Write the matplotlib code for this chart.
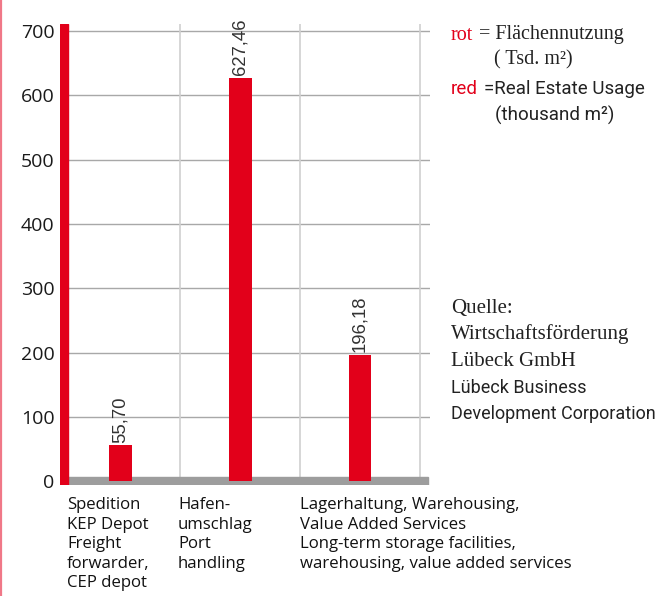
import matplotlib
matplotlib.use("Agg")
import matplotlib.pyplot as plt

# data
categories = ["Spedition\nKEP Depot\nFreight\nforwarder,\nCEP depot",
              "Hafen-\numschlag\nPort\nhandling",
              "Lagerhaltung, Warehousing,\nValue Added Services\nLong-term storage facilities,\nwarehousing, value added services"]
values = [55.70, 627.46, 196.18]
value_labels = ["55,70", "627,46", "196,18"]
yticks = [0, 100, 200, 300, 400, 500, 600, 700]

RED = "#e2001a"
W, H = 662, 596
fig = plt.figure(figsize=(W / 100, H / 100), dpi=100)

# axes in pixel coords: x 60..430, y 24..485
ax = fig.add_axes([60 / W, (H - 485) / H, 370 / W, (485 - 24) / H])
ax.set_xlim(0, 370 / 120)
ax.set_ylim(-6, 711)

for y in yticks[1:]:
    ax.axhline(y, color="#a8a8a8", lw=1, zorder=1)
for x in [1, 2, 3]:
    ax.axvline(x, color="#cfcfcf", lw=1.2, zorder=1)

xs = [0.5 + i for i in range(len(values))]
ax.bar(xs, values, width=23 / 120, color=RED, zorder=3)
for x, v, lab in zip(xs, values, value_labels):
    ax.text(x, v + 4, lab, rotation=90, ha="center", va="bottom",
            fontsize=13.3, family="Liberation Sans", color="#333333", zorder=4)

# grey base band and red y axis bar
ax.axhspan(-6, 6, xmin=8 / 370, xmax=368 / 370, color="#9d9d9d", zorder=2)
ax.axvspan(0, 8 / 120, ymin=0.0, ymax=1, color=RED, zorder=5)

for s in ax.spines.values():
    s.set_visible(False)
ax.set_xticks([])
ax.set_yticks(yticks)
ax.tick_params(axis="y", length=0, pad=4, labelsize=14, labelcolor="#1a1a1a")
for t in ax.get_yticklabels():
    t.set_family("Open Sans")

# category labels
for x0, cat in zip([67, 178, 300], categories):
    fig.text(x0 / W, 1 - 497 / H, cat, ha="left", va="top", fontsize=12.1,
             family="Open Sans", color="#111111", linespacing=1.3)

# pink page edge
fig.add_artist(plt.Line2D([0.8 / W, 0.8 / W], [0, 1], color="#f07888", lw=1.6))

# legend text
def ftxt(x, y, s, color="#222222", family="Liberation Serif", size=14.5):
    fig.text(x / W, 1 - y / H, s, ha="left", va="center", color=color,
             family=family, fontsize=size)

ftxt(451, 35, "rot", RED)
ftxt(479, 35, "= Flächennutzung")
ftxt(494, 60, "( Tsd. m²)")
ftxt(451, 89, "red", RED, "Roboto", 13.5)
ftxt(484, 89, "=Real Estate Usage", family="Roboto", size=13.5)
ftxt(495, 115, "(thousand m²)", family="Roboto", size=13.5)

ftxt(451, 308, "Quelle:", size=15)
ftxt(451, 334, "Wirtschaftsförderung", size=15)
ftxt(451, 361, "Lübeck GmbH", size=15)
ftxt(451, 388, "Lübeck Business", family="Roboto", size=13)
ftxt(451, 414, "Development Corporation", family="Roboto", size=13)

fig.savefig("out.png", dpi=100)
